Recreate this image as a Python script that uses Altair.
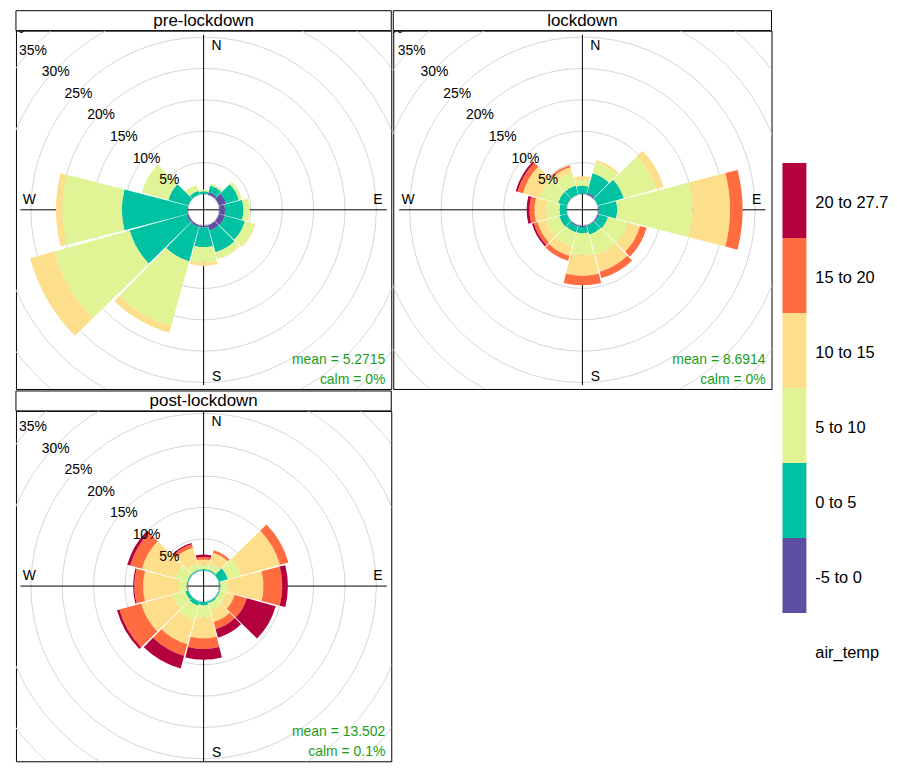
import math
import altair as alt
import pandas as pd

# ---------------- data ----------------
DIRECTIONS = [0, 30, 60, 90, 120, 150, 180, 210, 240, 270, 300, 330]
BINS = ["-5 to 0", "0 to 5", "5 to 10", "10 to 15", "15 to 20", "20 to 27.7"]
BIN_COLORS = ["#5E4FA2", "#00C1A1", "#E0F495", "#FDDE8B", "#FE6C3F", "#B4003E"]

# frequency (%) per direction for each air_temp bin
pre_m5_0 = [0.0, 0.4, 1.2, 0.9, 1.0, 0.9, 0.3, 0.3, 0.3, 0.1, 0.0, 0.0]
pre_0_5 = [0.4, 1.1, 2.1, 2.9, 3.3, 3.6, 3.1, 5.7, 9.4, 10.4, 3.3, 0.6]
pre_5_10 = [0.3, 0.3, 0.5, 1.0, 1.5, 1.1, 2.5, 10.7, 12.5, 9.5, 4.4, 1.0]
pre_10_15 = [0.0, 0.0, 0.0, 0.0, 0.2, 0.1, 0.5, 1.1, 4.0, 1.0, 0.0, 0.0]
pre_15_20 = [0.0] * 12
pre_20_27 = [0.0] * 12

lock_m5_0 = [0.0, 0.3, 0.0, 0.1, 0.2, 0.1, 0.2, 0.2, 0.0, 0.0, 0.0, 0.0]
lock_0_5 = [1.3, 3.2, 4.3, 2.9, 1.5, 1.5, 1.0, 1.0, 1.3, 1.1, 1.5, 1.5]
lock_5_10 = [1.0, 1.8, 5.3, 12.0, 3.3, 3.4, 3.5, 2.3, 2.2, 2.1, 3.0, 2.1]
lock_10_15 = [0.5, 0.4, 1.3, 6.0, 2.0, 2.7, 3.3, 1.6, 1.4, 1.9, 2.8, 0.9]
lock_15_20 = [0.0, 0.0, 0.0, 2.0, 1.1, 1.1, 1.5, 0.8, 0.6, 0.8, 0.9, 0.35]
lock_20_27 = [0.0, 0.0, 0.0, 0.0, 0.0, 0.0, 0.0, 0.0, 0.3, 0.45, 0.3, 0.0]

post_m5_0 = [0.0] * 12
post_0_5 = [0.2, 0.2, 1.5, 0.2, 0.2, 0.3, 0.5, 0.7, 0.5, 0.2, 0.2, 0.2]
post_5_10 = [0.7, 1.0, 2.1, 1.2, 1.1, 1.2, 2.0, 2.3, 2.1, 1.2, 1.9, 1.0]
post_10_15 = [0.8, 1.8, 6.5, 5.6, 1.3, 1.9, 3.3, 4.1, 5.2, 5.7, 5.6, 2.6]
post_15_20 = [0.4, 0.4, 1.4, 3.0, 2.0, 1.2, 1.7, 1.9, 3.6, 1.4, 1.9, 0.6]
post_20_27 = [0.4, 0.0, 0.0, 0.9, 4.8, 1.4, 1.7, 2.1, 0.4, 0.2, 0.5, 0.2]

PANEL_NAMES = ["pre-lockdown", "lockdown", "post-lockdown"]
PANEL_MEAN = ["mean = 5.2715", "mean = 8.6914", "mean = 13.502"]
PANEL_CALM = ["calm = 0%", "calm = 0%", "calm = 0.1%"]

GRID_PCT = [5, 10, 15, 20, 25, 30, 35, 40, 45]
LABEL_PCT = [5, 10, 15, 20, 25, 30, 35, 40]
LEGEND_TITLE = "air_temp"

# ---------------- layout / style ----------------
W_LEFT = 377
W_RIGHT = 380
H1 = 360
H2 = 352
STRIP = 20
HOLE = 16
PX_PER_PCT = 6.3
RMAX = 45
GAP = 0.6
FONT = "Liberation Sans"
GRID_COLOR = "#D6D6D6"
NOTE_COLOR = "#1A9E1A"

color_scale = alt.Scale(domain=BINS, range=BIN_COLORS)
ONE = pd.DataFrame({"k": [0]})


def rose_df(series):
    rows = []
    for k, (b, vals) in enumerate(zip(BINS, series)):
        for d, v in zip(DIRECTIONS, vals):
            rows.append({"direction": d, "bin": b, "order": k, "freq": v})
    return pd.DataFrame(rows)


def text_at(txt, x, y, **kw):
    return alt.Chart(ONE).mark_text(text=txt, font=FONT, **kw).encode(
        x=alt.value(x), y=alt.value(y)
    )


def panel(name, series, mean_txt, calm_txt, w, h):
    theta_scale = alt.Scale(domain=[0, 360], range=[0, 2 * math.pi])
    r_scale = alt.Scale(type="linear", domain=[0, RMAX],
                        range=[HOLE, HOLE + RMAX * PX_PER_PCT])
    cx, cy = w / 2, h / 2

    grid = alt.Chart(pd.DataFrame({"pct": GRID_PCT})).mark_arc(
        filled=False, stroke=GRID_COLOR, strokeWidth=1, clip=True
    ).encode(
        theta=alt.value(0), theta2=alt.value(2 * math.pi),
        radius=alt.Radius("pct:Q", scale=r_scale, stack=False),
    )

    vline = alt.Chart(ONE).mark_rule(color="black", strokeWidth=1).encode(
        x=alt.value(cx), y=alt.value(cy - 176), y2=alt.value(cy + 176))
    hline = alt.Chart(ONE).mark_rule(color="black", strokeWidth=1).encode(
        y=alt.value(cy), x=alt.value(cx - 184), x2=alt.value(cx + 184))

    wedges = alt.Chart(rose_df(series)).transform_stack(
        stack="freq", groupby=["direction"],
        sort=[alt.SortField("order", order="ascending")], as_=["lo", "hi"]
    ).transform_filter("datum.freq > 0").transform_calculate(
        t0=f"datum.direction - 15 + {GAP}", t1=f"datum.direction + 15 - {GAP}"
    ).mark_arc(clip=True).encode(
        theta=alt.Theta("t0:Q", scale=theta_scale, stack=False),
        theta2="t1:Q",
        radius=alt.Radius("lo:Q", scale=r_scale, stack=False),
        radius2="hi:Q",
        color=alt.Color("bin:N", scale=color_scale, legend=None),
    )

    pct_labels = alt.Chart(pd.DataFrame({"pct": LABEL_PCT})).transform_calculate(
        lab="datum.pct + '%'"
    ).mark_text(font=FONT, fontSize=14, color="black", dy=3, clip=True).encode(
        theta=alt.value(313.5 * math.pi / 180),
        radius=alt.Radius("pct:Q", scale=r_scale, stack=False),
        text="lab:N",
    )

    compass = [
        text_at("N", cx + 13, cy - 165, fontSize=14),
        text_at("S", cx + 13, cy + 168, fontSize=14),
        text_at("W", cx - 175, cy - 10, fontSize=14),
        text_at("E", cx + 175, cy - 10, fontSize=14),
    ]
    notes = [
        text_at(mean_txt, w - 6, h - 29, fontSize=14, align="right", color=NOTE_COLOR),
        text_at(calm_txt, w - 6, h - 9, fontSize=14, align="right", color=NOTE_COLOR),
    ]
    strip_rect = alt.Chart(ONE).mark_rect(fill="white", stroke="black", strokeWidth=1).encode(
        x=alt.value(0), x2=alt.value(w), y=alt.value(-STRIP), y2=alt.value(0))
    strip_text = text_at(name, w / 2, -STRIP / 2 + 0.5, fontSize=17, baseline="middle")

    return alt.layer(grid, vline, hline, wedges, pct_labels, *compass, *notes,
                     strip_rect, strip_text).properties(width=w, height=h)


p_pre = panel(PANEL_NAMES[0], [pre_m5_0, pre_0_5, pre_5_10, pre_10_15, pre_15_20, pre_20_27],
              PANEL_MEAN[0], PANEL_CALM[0], W_LEFT, H1)
p_lock = panel(PANEL_NAMES[1], [lock_m5_0, lock_0_5, lock_5_10, lock_10_15, lock_15_20, lock_20_27],
               PANEL_MEAN[1], PANEL_CALM[1], W_RIGHT, H1)
p_post = panel(PANEL_NAMES[2], [post_m5_0, post_0_5, post_5_10, post_10_15, post_15_20, post_20_27],
               PANEL_MEAN[2], PANEL_CALM[2], W_LEFT, H2)

# ---------------- legend ----------------
leg_y = alt.Scale(domain=BINS[::-1], range=[133, 585], paddingInner=0, paddingOuter=0)
leg_df = pd.DataFrame({"bin": BINS})
leg_bar = alt.Chart(leg_df).mark_rect().encode(
    x=alt.value(0), x2=alt.value(24),
    y=alt.Y("bin:N", scale=leg_y, axis=None),
    color=alt.Color("bin:N", scale=color_scale, legend=None),
)
leg_lab = alt.Chart(leg_df).mark_text(align="left", baseline="middle", font=FONT,
                                      fontSize=16.5, dy=3, color="black").encode(
    x=alt.value(33),
    y=alt.Y("bin:N", scale=leg_y, axis=None),
    text="bin:N",
)
leg_title = text_at(LEGEND_TITLE, 33, 625, fontSize=16.5, align="left", baseline="middle")
legend = alt.layer(leg_bar, leg_lab, leg_title).properties(
    width=106, height=640, view=alt.ViewBackground(strokeOpacity=0))

left = alt.vconcat(alt.hconcat(p_pre, p_lock, spacing=0), p_post, spacing=0)
chart = alt.hconcat(left, legend, spacing=10).properties(
    padding={"left": 7, "top": 0, "right": 0, "bottom": 0}
).configure(font=FONT).configure_view(stroke="black", strokeWidth=1)

chart.save("out.html", embed_options={"renderer": "svg", "actions": False})
